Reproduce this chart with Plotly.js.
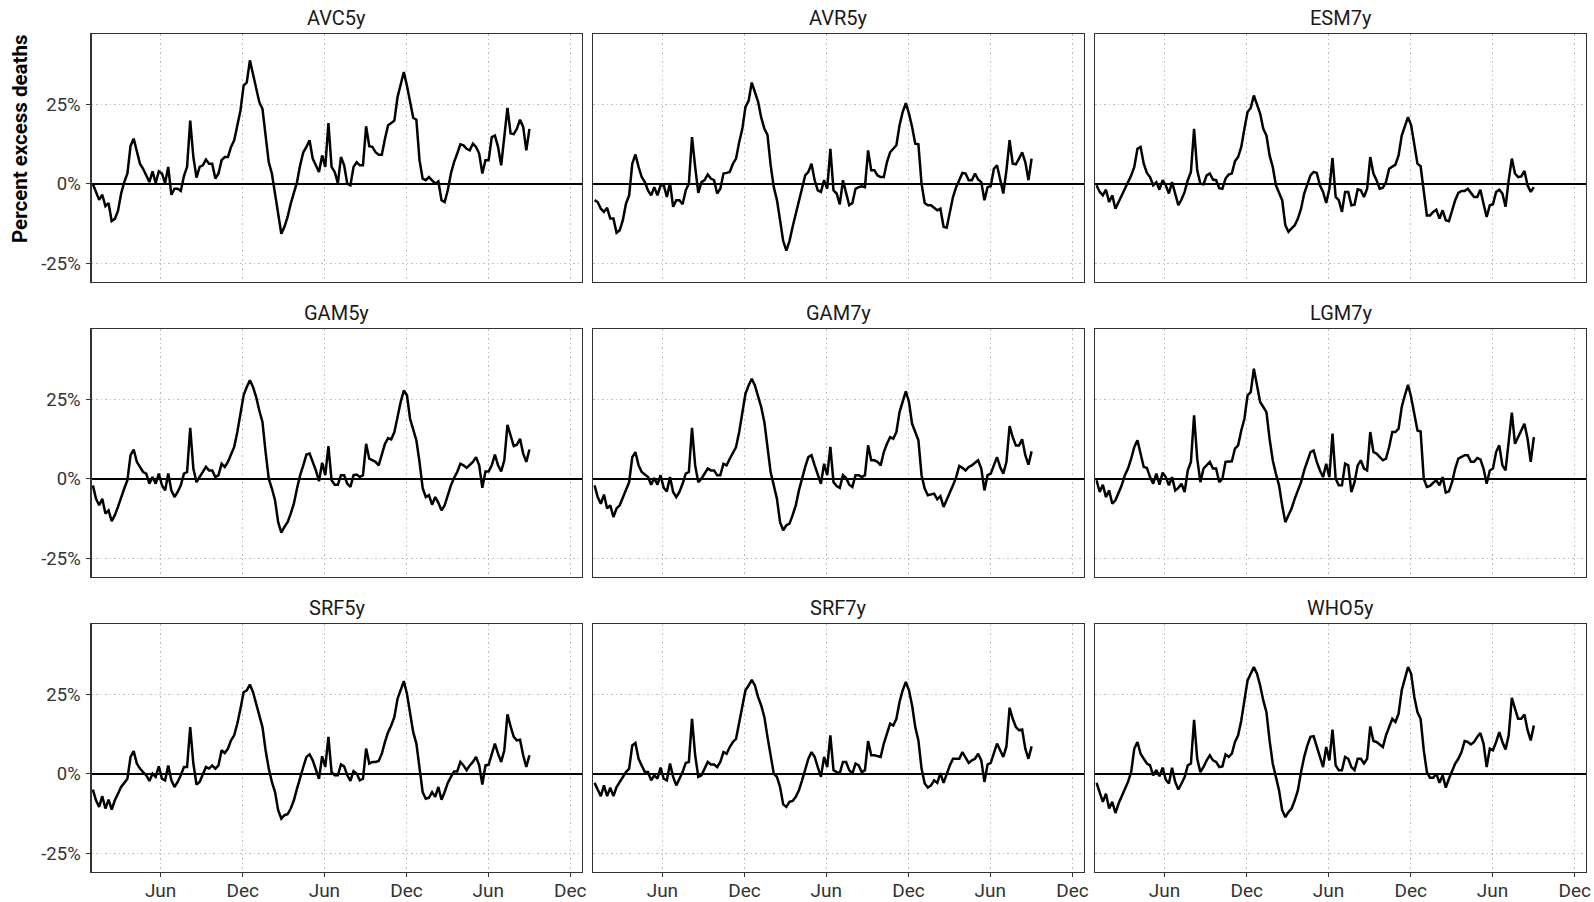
<!DOCTYPE html>
<html>
<head>
<meta charset="utf-8">
<script src="https://cdn.plot.ly/plotly-3.0.1.min.js"></script>
<style>
html,body{margin:0;padding:0;background:#ffffff;}
#chart{width:1594px;height:902px;}
</style>
</head>
<body>
<div id="chart"></div>
<script>
// ---------------- DATA ----------------
const firstWeek = '2020-01-02';   // first weekly observation
const panelNames = ['AVC5y','AVR5y','ESM7y','GAM5y','GAM7y','LGM7y','SRF5y','SRF7y','WHO5y'];

const avc5y = [0, -2.5, -5, -3.4, -7, -6, -11.7, -11, -8.5, -3,
 0.6, 3.3, 12, 14.3, 10, 6.4, 4.8, 2.7, 0.6, 4,
 0.3, 4, 3.3, 0.3, 5.4, -3.4, -1.5, -1.5, -2.2, 2.5,
 5.4, 20, 8.5, 2, 5.4, 5.9, 7.7, 6.4, 6.4, 1.7,
 3.3, 7.5, 8.5, 8.5, 11.7, 13.8, 18.5, 23.2, 31, 32,
 39, 34.8, 30, 25.8, 23.7, 15.9, 6.9, 3.3, -3, -10.4,
 -15.7, -13.5, -10.4, -6.2, -3, 0.6, 5.9, 10, 11.7, 13.8,
 8, 5.9, 3.8, 9, 5.4, 19.2, 5.4, 3.8, 0.3, 8.5,
 5.9, 0.1, -0.4, 5.4, 6.9, 5.9, 5.9, 18.2, 11.9, 11.7,
 10, 9.2, 9.2, 14.3, 18.5, 19.2, 20, 27.4, 31, 35.3,
 31, 26.4, 20.9, 20.3, 7.5, 1.7, 1.2, 2.2, 1.2, 0.1,
 0.8, -5.1, -5.7, -2, 3.3, 6.9, 9.6, 12.5, 12.2, 11.1,
 10.6, 12.7, 11.7, 9.6, 3.3, 7.5, 7.5, 14.8, 15.3, 11.7,
 5.9, 14.8, 24, 15.9, 15.7, 17.4, 20.3, 18, 10.6, 17.4];

const avr5y = [-5.1, -5.7, -7.8, -8.8, -7.5, -10.9, -10.9, -15.4, -14.6, -11.4,
 -6.2, -3.6, 6.4, 9.3, 5.4, 2.2, 0.6, -2, -3.6, -1,
 -3.6, -0.4, -0.4, -4.1, 0.3, -7.2, -5.1, -5.1, -6.4, -2,
 0.1, 14.8, 5.4, -2.8, 0.6, 1.2, 3, 1.7, 1.2, -3,
 -1.5, 3.3, 3.5, 3.8, 6.4, 8, 13.2, 17.4, 24.3, 26.2,
 32, 29, 26, 21, 17.5, 15.5, 6, -1, -5, -11.4,
 -18, -21, -18, -13.5, -9.3, -5.1, -1, 2.7, 3.8, 6.4,
 1.2, -2, -2.5, 1.2, -1.5, 11.1, -2, -3, -6.4, 1.2,
 -2.8, -6.7, -6, -1.5, -1, -0.7, -1, 10.6, 4.3, 4.3,
 2.7, 2.2, 2.2, 6.9, 10, 11.1, 12.2, 18.5, 22.7, 25.5,
 22.2, 18, 12.7, 12.5, 0.1, -6, -6.7, -6.7, -7.5, -8.3,
 -7.8, -13.5, -13.8, -8.3, -4.1, -1, 1.2, 3.5, 3.3, 1.2,
 1.2, 3.3, 1.4, 0.6, -5.1, -1, -0.7, 4.8, 5.9, 1.2,
 -3, 4.3, 13.8, 6.4, 6.2, 8, 10, 6.9, 1.2, 8];

const esm7y = [-0.4, -2.5, -3.6, -1.8, -5.7, -3.6, -7.8, -5.7, -4.1, -2,
 0.6, 2.7, 5.4, 11.1, 11.7, 6.4, 3.5, 2.2, -0.4, 0.6,
 -1.8, 1.2, -0.4, -3, 0.6, -3, -6.7, -4.9, -2.5, 1.2,
 3.8, 17.4, 4.3, 0.1, -0.1, 2.7, 3.3, 1.4, 1.2, -1.3,
 -1.5, 1.7, 3, 3.3, 7.2, 8.5, 11.7, 17.4, 22.7, 24,
 27.9, 25, 22.2, 17.4, 15.3, 9, 5.4, -0.4, -3, -5.1,
 -13, -15.1, -14, -13, -10.9, -7.8, -3, -0.4, 2.7, 3.8,
 3.5, -0.4, -2.5, -6, -1.5, 8.2, -4.1, -5.1, -8.8, -2.5,
 -2.5, -6.7, -6.5, -1.7, -2, -4.1, -1.5, 8.5, 3.3, 1.2,
 -1.5, -1.2, 0.6, 4.8, 5.6, 6.1, 9, 15.3, 18.2, 21.1,
 18.5, 12.7, 6.4, 5.6, -2, -9.9, -9.9, -8.8, -8.1, -10.9,
 -8.3, -11.4, -11.7, -8.3, -5.1, -2.8, -2.2, -2.2, -1.5, -2.8,
 -4.1, -4.1, -1.8, -6.2, -10.4, -6.7, -6.4, -2.5, -1.8, -3,
 -7.2, 1.2, 8, 3.3, 2.2, 2.4, 4.1, -0.4, -2.5, -1];

const gam5y = [-2, -6.2, -8.3, -6.2, -10.9, -9.9, -13.3, -11.4, -8.8, -5.7,
 -3, -0.4, 7.5, 9.3, 5.4, 3.8, 2.2, 1.7, -1.5, 0.6,
 -1.5, 1.7, -2, -3.6, 1.7, -3.6, -5.7, -4.1, -2, 1.7,
 2.2, 16.1, 3.3, -1, 0.6, 2.2, 3.8, 2.7, 2.7, 0.6,
 1.2, 4.8, 3.8, 5.4, 8, 10.1, 14.8, 20.1, 26.4, 29,
 31.1, 29, 25.8, 21.6, 18, 8.5, 0.1, -3, -6.7, -13.6,
 -16.9, -15.1, -13.6, -10.9, -7.8, -3, 1.2, 4.3, 7.7, 8,
 5.4, 2.7, -0.7, 5.1, 1.2, 10.4, -0.4, -1.8, -1.8, 1.2,
 1.2, -1.5, -2.5, 1.2, 1.4, 0.6, 1.2, 11.1, 6.4, 5.9,
 5.4, 4.3, 7.5, 11.1, 12.9, 12.5, 14.8, 20.1, 24.3, 27.9,
 26.4, 19, 15.9, 12.2, 5.4, -2.8, -5.7, -5.1, -8.1, -5.7,
 -7.5, -9.9, -8.3, -4.9, -2, 0.3, 2.2, 4.8, 4.3, 3.5,
 4.5, 5.4, 6.9, 4.3, -2.8, 2.4, 2.4, 4.3, 7.7, 4.3,
 2.4, 5.9, 17.1, 13.8, 10.4, 10.8, 12.7, 8, 5.4, 9.3];

const gam7y = [-2, -5.7, -7.8, -4.9, -9.3, -8.3, -12, -9.3, -8.3, -5.7,
 -3.6, -1, 6.9, 8.5, 4.3, 2.2, 1.4, 0.6, -1.8, 0.3,
 -1.8, 1.2, -2.8, -3.9, 0.6, -4.1, -5.7, -4.1, -1.5, 1.7,
 2.2, 16.1, 4.3, -1, 0.1, 1.7, 3.3, 2.7, 2.7, 1.2,
 1.2, 4.8, 4.3, 6.4, 8.5, 10.1, 14.8, 20.6, 26.9, 29.5,
 31.6, 29.5, 26.4, 22.7, 18, 9.6, 2.2, -2, -6.2, -13.6,
 -16.2, -14.6, -14.1, -11.4, -8.3, -3.6, 0.6, 3.8, 6.9, 7.5,
 4.3, 1.2, -1.5, 4.8, 1.2, 10.1, -1, -2.2, -2.8, 1.2,
 0.3, -1.8, -2.5, 1.2, 1.2, 0.6, 1.2, 10.6, 5.9, 5.9,
 5.4, 4.3, 8.5, 11.1, 13.2, 12.7, 14.8, 21.1, 24.8, 27.6,
 24.3, 17.4, 14.8, 12.2, 1.2, -3, -5.1, -4.9, -4.6, -6.4,
 -5.4, -8.8, -6.7, -4.1, -2, 0.6, 4.1, 3.5, 2.7, 3.8,
 4.3, 5.1, 5.9, 3.3, -3.6, 1.2, 1.7, 4.3, 6.9, 3.8,
 1.7, 5.4, 16.7, 13.2, 10.6, 10.6, 12.5, 7.5, 4.5, 8.7];

const lgm7y = [-0.4, -4.1, -1.8, -5.7, -3.6, -7.8, -6.7, -4.6, -2, 1.2,
 3.3, 6.4, 10.1, 12.2, 7.5, 3.8, 3.5, 0.6, -1.5, 1.7,
 -1.8, 2, 0.6, -2, 0.6, -3.6, -2.8, -1.5, -4.1, 2.7,
 5.4, 20.1, 6.4, -1, 3.3, 4.3, 5.4, 3.3, 3.3, -1,
 0.1, 5.4, 5.4, 5.6, 9.6, 10.6, 15.3, 19, 26.4, 27.4,
 34.8, 29.5, 24.3, 22.7, 21.1, 12.7, 5.9, 1.7, -2, -8.3,
 -13.6, -11.4, -9.3, -6.2, -3.6, -1, 2.7, 5.4, 8.5, 9,
 5.4, 2.7, 0.6, 4.8, 0.6, 14.3, 0.1, -2, -2, 4.8,
 4.3, -4.1, -1, 4.3, 5.9, 3.3, 2.7, 14.8, 8.5, 8,
 6.9, 5.9, 6.4, 10.1, 14.8, 14.8, 15.9, 22.7, 26.4, 29.7,
 25.8, 21.1, 15.3, 15, 0.1, -2.5, -2.2, -1.2, -0.4, -2,
 0.6, -4.3, -3.9, -1, 3.3, 6.4, 6.9, 7.5, 7.5, 5.4,
 5.4, 6.6, 6.2, 3.3, -1.5, 2.7, 3.3, 8.5, 10.6, 4.3,
 2.7, 11.1, 20.9, 11.1, 13.2, 14.8, 17.4, 12.7, 5.4, 13.2];

const srf5y = [-4.9, -8.3, -10.4, -7, -10.9, -8.1, -11.2, -8.3, -6.2, -4.1,
 -2.8, -1.5, 5.4, 7.2, 3.3, 1.7, 0.6, -0.4, -2.2, 0.1,
 -0.9, 2.4, -1.5, -2, 2.7, -2, -4.1, -2.5, -0.4, 2.2,
 2.2, 14.8, 3.3, -3.3, -2.5, 0.1, 2.2, 1.7, 2.7, 1.7,
 2.7, 7.5, 6.6, 8, 10.6, 12.2, 15.9, 20.6, 25.8, 26.4,
 28.2, 25.8, 22.2, 18.5, 14.8, 7.5, 1.7, -2.5, -5.7, -11.4,
 -14.1, -13, -12.7, -10.9, -8.3, -4.6, -0.9, 2.2, 5.4, 6.2,
 4.3, 1.2, -1.5, 5.6, 2.2, 11.7, 0.6, -0.4, -0.4, 3,
 2.4, -0.4, -2.2, 0.9, 0.1, -2, -1.5, 8, 3.3, 3.8,
 3.8, 4.1, 6.4, 10.1, 13.2, 15.3, 18, 23.7, 26.4, 29.3,
 25.3, 18.5, 13.2, 9.6, 1.2, -5.7, -7.8, -7.5, -5.7, -7.2,
 -4.1, -8.1, -5.7, -2.8, -0.9, 0.8, 0.8, 3.8, 2.7, 1.2,
 2.7, 3.8, 5.4, 2.7, -3.3, 2.7, 2.9, 6.4, 9.6, 6.4,
 3.8, 7.5, 18.8, 15, 11.7, 10.6, 10.8, 5.9, 2.2, 5.9];

const srf7y = [-2.8, -5.1, -7, -3.6, -7, -4.3, -7, -4.1, -2.5, -1,
 0.6, 1.7, 9, 9.8, 4.8, 2.7, 0.6, 0.6, -2, -0.4,
 -1.5, 2, -1.5, -2, 3.3, -0.9, -3.6, -1.5, 0.6, 3.5,
 3.8, 17.4, 5.9, -0.9, -0.4, 1.7, 3.8, 3, 3, 2.2,
 3.8, 6.9, 6.4, 8.5, 10.1, 11.1, 15.9, 20.6, 26.4, 27.9,
 29.7, 27.9, 24.3, 21.6, 18, 11.7, 6.4, 0.1, -0.9, -4.1,
 -9.6, -10.4, -8.8, -8.5, -7.2, -5.1, -2, 1.2, 4.8, 6.9,
 5.4, 2.2, -0.9, 5.4, 2.2, 12.2, 1.2, 0.6, 0.3, 3.8,
 3.8, 1.2, 0.1, 3.3, 2.7, 0.6, 1.2, 10.4, 5.9, 5.9,
 5.6, 5.4, 9.6, 12.7, 15.9, 15.3, 17.4, 22.7, 26.4, 29,
 26.4, 21.6, 14.8, 10.6, 1.7, -3, -4.3, -3.6, -2, -2.8,
 0.3, -2.8, 0.1, 2.7, 4.8, 4.8, 4.8, 6.9, 5.4, 3.5,
 4.3, 4.8, 6.4, 4.3, -2.5, 3, 3.5, 6.4, 9.6, 7.5,
 5.4, 8.7, 20.9, 17.4, 14.8, 13.8, 14, 8, 4.8, 8.7];

const who5y = [-2.8, -6.2, -8.8, -6.2, -10.9, -8.8, -12.3, -9.3, -7.2, -4.6,
 -2.5, 0.6, 8, 10.1, 6.4, 4.8, 3.3, 2.7, -0.4, 1.2,
 -0.7, 2, -1.8, -3, 2, -2.5, -4.9, -3, -1, 2.7,
 3.3, 17.1, 4.8, 0.6, 2.2, 4.3, 5.9, 4.3, 3.8, 2.2,
 2.4, 6.2, 5.4, 6.4, 10.1, 12.2, 16.9, 23.2, 29.5, 31.6,
 33.7, 31.6, 27.9, 23.2, 19.5, 10.6, 3.3, -0.9, -5.1, -11.4,
 -13.6, -12, -10.9, -8.3, -5.1, 0.6, 5.4, 9, 11.7, 11.9,
 8.5, 4.8, 2.2, 8.5, 4.3, 14, 2.7, 1.2, 1.2, 5.4,
 4.8, 2.2, 1.2, 4.8, 4.8, 3.3, 4.8, 15, 10.4, 10.1,
 9.3, 8.5, 12.2, 14.8, 17.4, 16.4, 19, 26.4, 30, 33.7,
 31.6, 24.3, 19.5, 17.4, 7.5, 0.6, -1.2, -1.2, 0.1, -2.8,
 -0.4, -4.3, -1.5, 1.2, 3.3, 4.8, 6.9, 10.4, 10.1, 9.3,
 10.1, 11.7, 12.9, 9.6, 2.2, 8, 7.5, 10.1, 13.2, 10.1,
 7.7, 12.2, 24, 20.6, 17.4, 17.4, 18.8, 13.8, 10.6, 15.3];

const xTickDates  = ['2020-06-01','2020-12-01','2021-06-01','2021-12-01','2022-06-01','2022-12-01'];
const xTickLabels = ['Jun','Dec','Jun','Dec','Jun','Dec'];
const yTickValues = [-25, 0, 25];
const yTickLabels = ['-25%','0%','25%'];
const yTitle = 'Percent excess deaths';

// ---------------- BUILD ----------------
const seriesList = [avc5y, avr5y, esm7y, gam5y, gam7y, lgm7y, srf5y, srf7y, who5y];

function weekDates(start, n) {
  const out = [];
  const t0 = Date.parse(start + 'T00:00:00Z');
  for (let i = 0; i < n; i++) {
    out.push(new Date(t0 + i * 7 * 86400000).toISOString().slice(0, 10));
  }
  return out;
}

const W = 1594, H = 902;
const colPx = [[91.5, 581.5], [593.2, 1083.7], [1095.2, 1586]];
const rowPx = [[34, 282.3], [329, 577.3], [624, 872.3]];
const titleY = [17.5, 312.5, 607.5];

const FONT = 'Roboto, "Liberation Sans", Arial, sans-serif';
const layout = {
  width: W, height: H,
  margin: {l: 0, r: 0, t: 0, b: 0, pad: 0},
  paper_bgcolor: '#ffffff',
  plot_bgcolor: '#ffffff',
  showlegend: false,
  font: {family: FONT, color: '#333333', size: 16},
  annotations: [],
};

const traces = [];
seriesList.forEach((vals, k) => {
  const r = Math.floor(k / 3), c = k % 3;
  const sfx = k === 0 ? '' : String(k + 1);
  const xa = 'xaxis' + sfx, ya = 'yaxis' + sfx;
  traces.push({
    type: 'scatter', mode: 'lines',
    x: weekDates(firstWeek, vals.length), y: vals,
    xaxis: 'x' + sfx, yaxis: 'y' + sfx,
    line: {color: '#000000', width: 2.5},
    hoverinfo: 'skip'
  });
  const bottomRow = r === 2, leftCol = c === 0;
  layout[xa] = {
    domain: [colPx[c][0] / W, colPx[c][1] / W],
    anchor: 'y' + sfx,
    type: 'date',
    range: ['2019-12-30', '2022-12-26'],
    tickmode: 'array', tickvals: xTickDates, ticktext: xTickLabels,
    showticklabels: bottomRow,
    ticks: bottomRow ? 'outside' : '',
    ticklen: 4, tickwidth: 1, tickcolor: '#333333',
    tickfont: {family: FONT, size: 19, color: '#333333'},
    ticklabelstandoff: -3,
    showgrid: true, gridcolor: '#bdbdbd', gridwidth: 1, griddash: '1.5px,3px',
    zeroline: false,
    showline: true, mirror: true, linecolor: '#333333', linewidth: 1.1,
    fixedrange: true
  };
  layout[ya] = {
    domain: [1 - rowPx[r][1] / H, 1 - rowPx[r][0] / H],
    anchor: 'x' + sfx,
    range: [-31.0, 47.3],
    tickmode: 'array', tickvals: yTickValues, ticktext: yTickLabels,
    showticklabels: leftCol,
    ticks: leftCol ? 'outside' : '',
    ticklen: 4, tickwidth: 1, tickcolor: '#333333',
    tickfont: {family: FONT, size: 18.5, color: '#333333'},
    ticklabelstandoff: 2,
    showgrid: true, gridcolor: '#bdbdbd', gridwidth: 1, griddash: '1.5px,3px',
    zeroline: true, zerolinecolor: '#000000', zerolinewidth: 2.7,
    showline: true, mirror: true, linecolor: '#333333', linewidth: 1.1,
    fixedrange: true
  };
  layout.annotations.push({
    xref: 'paper', yref: 'paper',
    x: (colPx[c][0] + colPx[c][1]) / 2 / W,
    y: 1 - titleY[r] / H,
    xanchor: 'center', yanchor: 'middle',
    text: panelNames[k], showarrow: false,
    font: {family: FONT, size: 20, color: '#1a1a1a'}
  });
});

layout.annotations.push({
  xref: 'paper', yref: 'paper',
  x: 20 / W, y: 1 - 139 / H,
  xanchor: 'center', yanchor: 'middle',
  textangle: -90,
  text: '<b>' + yTitle + '</b>', showarrow: false,
  font: {family: FONT, size: 20.5, color: '#000000'}
});

Plotly.newPlot('chart', traces, layout, {displayModeBar: false, staticPlot: true});
</script>
</body>
</html>
